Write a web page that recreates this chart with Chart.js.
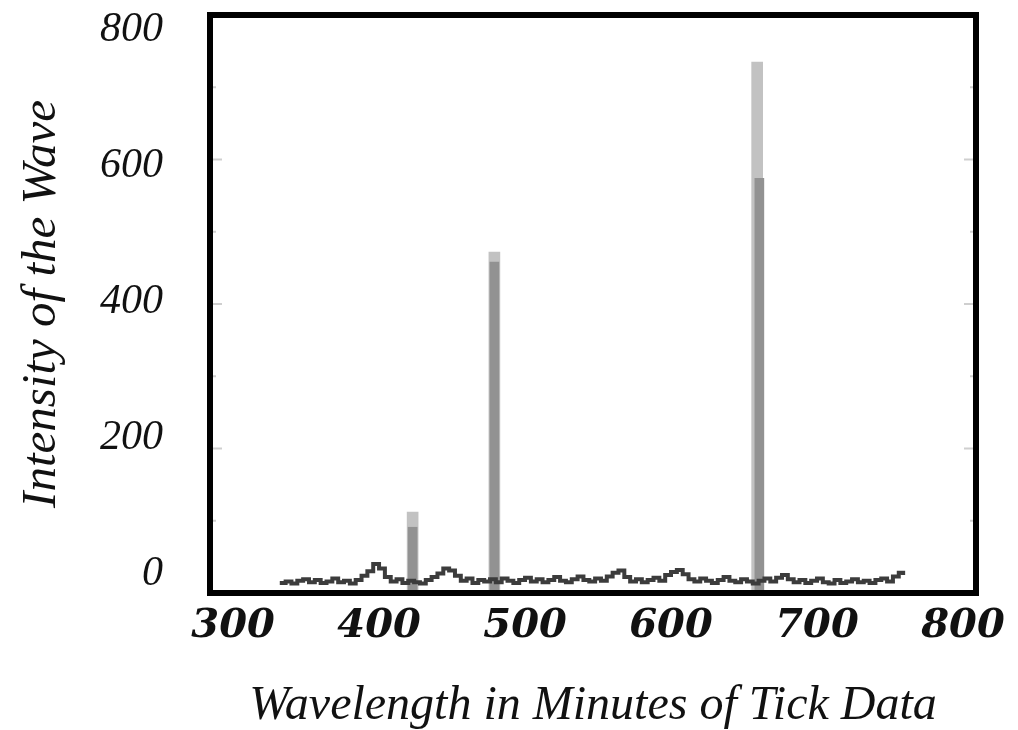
<!DOCTYPE html>
<html>
<head>
<meta charset="utf-8">
<script src="https://cdn.jsdelivr.net/npm/chart.js@4"></script>
<style>
  html, body { margin: 0; padding: 0; background: #fff; }
  #wrap { width: 1018px; height: 730px; }
</style>
</head>
<body>
<div id="wrap"><canvas id="waveChart" width="1018" height="730"></canvas></div>
<script>
// Baseline of the spectrum (wavelength, intensity)
const baseWave = [332,336,340,344,348,352,356,360,364,368,372,376,380,384,388,392,396,400,404,408,
  412,416,420,424,428,432,436,440,444,448,452,456,460,464,468,472,476,480,484,488,
  492,496,500,504,508,512,516,520,524,528,532,536,540,544,548,552,556,560,564,568,
  572,576,580,584,588,592,596,600,604,608,612,616,620,624,628,632,636,640,644,648,
  652,656,660,664,668,672,676,680,684,688,692,696,700,704,708,712,716,720,724,728,
  732,736,740,744,748,752,756,759];
const baseIntensity = [14,16,13,17,19,15,18,14,16,20,15,17,13,18,24,30,40,34,22,16,
  19,14,17,15,13,18,22,27,34,31,24,17,20,14,18,16,19,15,20,17,
  14,18,21,16,19,15,18,22,17,15,19,23,18,16,20,17,23,28,31,22,
  16,19,15,18,21,17,25,29,32,26,19,16,20,17,14,18,22,17,15,19,
  16,13,17,20,16,21,25,19,15,18,14,17,20,15,13,18,14,16,19,15,
  17,14,18,20,16,23,28,25];

// Emission lines
const peakWave = [423, 479, 659];
const peakTop = [112, 472, 735];
const coreWave = [423, 479, 660.5];
const peakCore = [91, 458, 574];

const xTicks = [300, 400, 500, 600, 700, 800];
const yTicks = [0, 200, 400, 600, 800];

const toPoints = (xs, ys) => xs.map((x, i) => ({ x: x, y: ys[i] }));

// frame + faint inner tick marks
const framePlugin = {
  id: 'frame',
  afterDraw(chart) {
    const { ctx, chartArea } = chart;
    const y = chart.scales.y;
    ctx.save();
    ctx.strokeStyle = '#cfcfcf';
    ctx.lineWidth = 2;
    for (let v = 100; v < 800; v += 100) {
      const py = y.getPixelForValue(v);
      const len = v % 200 === 0 ? 12 : 6;
      ctx.beginPath();
      ctx.moveTo(chartArea.left, py);
      ctx.lineTo(chartArea.left + len, py);
      ctx.moveTo(chartArea.right, py);
      ctx.lineTo(chartArea.right - len, py);
      ctx.stroke();
    }
    ctx.strokeStyle = '#000';
    ctx.lineWidth = 6;
    ctx.strokeRect(chartArea.left, chartArea.top,
      chartArea.right - chartArea.left, chartArea.bottom - chartArea.top);
    ctx.restore();
  }
};

const noPad = (axis) => {
  axis.paddingTop = 0;
  axis.paddingBottom = 0;
  axis.paddingLeft = 0;
  axis.paddingRight = 0;
};

const data = {
  datasets: [{
    type: 'line',
    label: 'baseline',
    data: toPoints(baseWave, baseIntensity),
    stepped: true,
    borderColor: '#3c3c3c',
    borderWidth: 4,
    pointRadius: 0,
    order: 0
  }, {
    type: 'bar',
    label: 'core',
    data: toPoints(coreWave, peakCore),
    backgroundColor: '#929292',
    barThickness: 9,
    order: 1
  }, {
    type: 'bar',
    label: 'peaks',
    data: toPoints(peakWave, peakTop),
    backgroundColor: '#c2c2c2',
    barThickness: 11,
    order: 2
  }]
};

const options = {
  responsive: false,
  animation: false,
  layout: { padding: { top: 15, right: 42, left: 0, bottom: 0 } },
  plugins: {
    legend: { display: false },
    tooltip: { enabled: false }
  },
  datasets: { bar: { grouped: false } },
  scales: {
    x: {
      type: 'linear',
      min: 284.2,
      max: 808.9,
      offset: false,
      afterBuildTicks: (axis) => { axis.ticks = xTicks.map(v => ({ value: v })); },
      afterFit: (axis) => { axis.height = 137; noPad(axis); },
      grid: { display: false, drawTicks: false },
      border: { display: false },
      ticks: {
        color: '#111',
        padding: 10,
        maxRotation: 0,
        font: { family: 'DejaVu Serif', size: 40, style: 'italic', weight: 'bold' }
      },
      title: {
        display: true,
        text: 'Wavelength in Minutes of Tick Data',
        color: '#111',
        padding: { top: 0, bottom: 0 },
        font: { family: 'Liberation Serif', size: 48, style: 'italic', lineHeight: 1 }
      }
    },
    y: {
      display: false,
      min: 0,
      max: 800
    },
    yl: {
      type: 'linear',
      position: 'left',
      min: -27.9,
      max: 822,
      afterBuildTicks: (axis) => { axis.ticks = yTicks.map(v => ({ value: v })); },
      afterFit: (axis) => { axis.width = 210; noPad(axis); },
      grid: { display: false, drawTicks: false },
      border: { display: false },
      ticks: {
        color: '#111',
        padding: 47,
        font: { family: 'Liberation Serif', size: 42, style: 'italic' }
      },
      title: {
        display: true,
        text: 'Intensity of the Wave',
        color: '#111',
        padding: { top: 18, bottom: 0 },
        font: { family: 'Liberation Serif', size: 49, style: 'italic', lineHeight: 1 }
      }
    }
  }
};

const config = {
  type: 'bar',
  data: data,
  options: options,
  plugins: [framePlugin]
};

const waveChart = new Chart(
  document.getElementById('waveChart'),
  config
);
</script>
</body>
</html>
